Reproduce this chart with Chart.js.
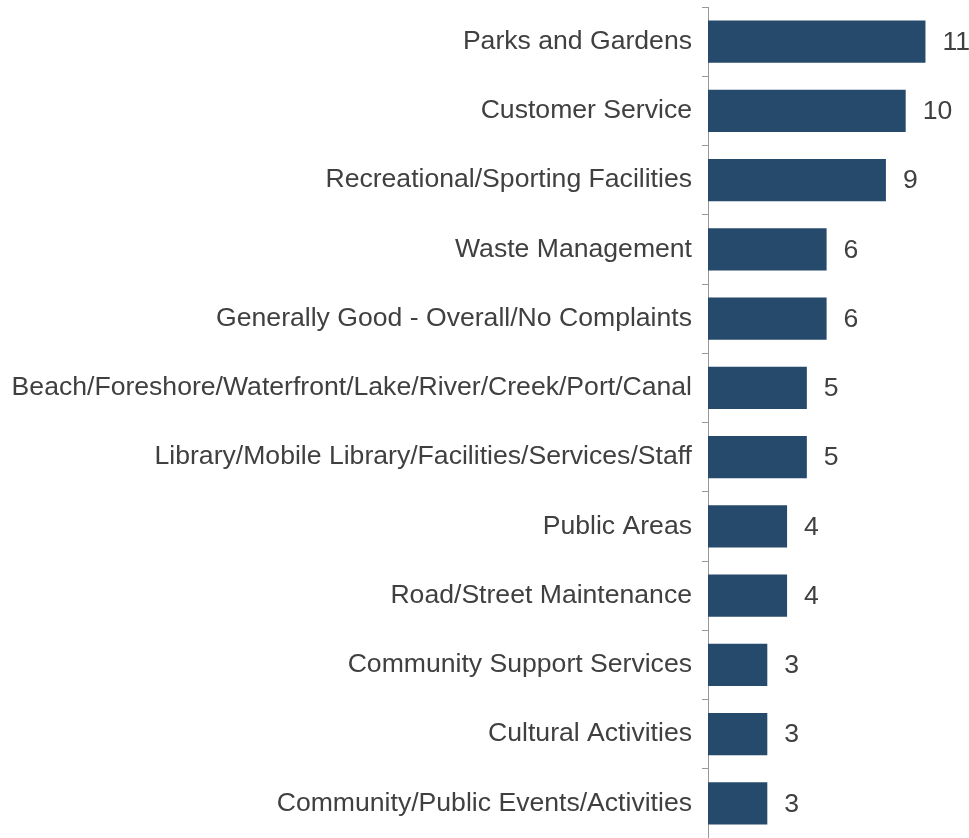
<!DOCTYPE html>
<html>
<head>
<meta charset="utf-8">
<title>Chart</title>
<script src="https://cdn.jsdelivr.net/npm/chart.js@4/dist/chart.umd.min.js"></script>
<style>
  html, body { margin: 0; padding: 0; background: #fff; }
  #wrap { width: 969px; height: 838px; position: relative; }
</style>
</head>
<body>
<div id="wrap"><canvas id="chart"></canvas></div>
<script>
(function () {
  'use strict';

  const categories = [
    'Parks and Gardens',
    'Customer Service',
    'Recreational/Sporting Facilities',
    'Waste Management',
    'Generally Good - Overall/No Complaints',
    'Beach/Foreshore/Waterfront/Lake/River/Creek/Port/Canal',
    'Library/Mobile Library/Facilities/Services/Staff',
    'Public Areas',
    'Road/Street Maintenance',
    'Community Support Services',
    'Cultural Activities',
    'Community/Public Events/Activities',
  ];
  const values = [11, 10, 9, 6, 6, 5, 5, 4, 4, 3, 3, 3];

  const barColor = '#264a6b';
  const textColor = '#404040';
  const axisColor = '#999999';
  const font = { family: "'Liberation Sans', Arial, sans-serif", size: 26.6 };

  // value labels to the right of each bar
  const valueLabels = {
    id: 'valueLabels',
    afterDatasetsDraw(chart) {
      const ctx = chart.ctx;
      const meta = chart.getDatasetMeta(0);
      ctx.save();
      ctx.fillStyle = textColor;
      ctx.font = font.size + 'px ' + font.family;
      ctx.textAlign = 'left';
      ctx.textBaseline = 'middle';
      meta.data.forEach((bar, i) => {
        ctx.fillText(String(values[i]), bar.x + 17, bar.y + 1);
      });
      ctx.restore();
    },
  };

  new Chart(document.getElementById('chart'), {
    type: 'bar',
    data: {
      labels: categories,
      datasets: [{
        data: values,
        backgroundColor: barColor,
        borderWidth: 0,
        categoryPercentage: 1,
        barPercentage: 0.61,
      }],
    },
    options: {
      indexAxis: 'y',
      responsive: true,
      maintainAspectRatio: false,
      animation: false,
      layout: { padding: { top: 7, right: 4, bottom: 0, left: 0 } },
      plugins: {
        legend: { display: false },
        tooltip: { enabled: false },
      },
      scales: {
        x: {
          display: false,
          min: 0,
          max: 13,
        },
        y: {
          afterFit(scale) {
            scale.width = 708;
            scale.paddingTop = 0;
            scale.paddingBottom = 0;
          },
          grid: {
            drawOnChartArea: false,
            drawTicks: true,
            tickLength: 6,
            color: axisColor,
          },
          border: { display: true, color: axisColor, width: 1 },
          ticks: {
            color: textColor,
            font: font,
            padding: 10,
            autoSkip: false,
          },
        },
      },
    },
    plugins: [valueLabels],
  });
})();
</script>
</body>
</html>
